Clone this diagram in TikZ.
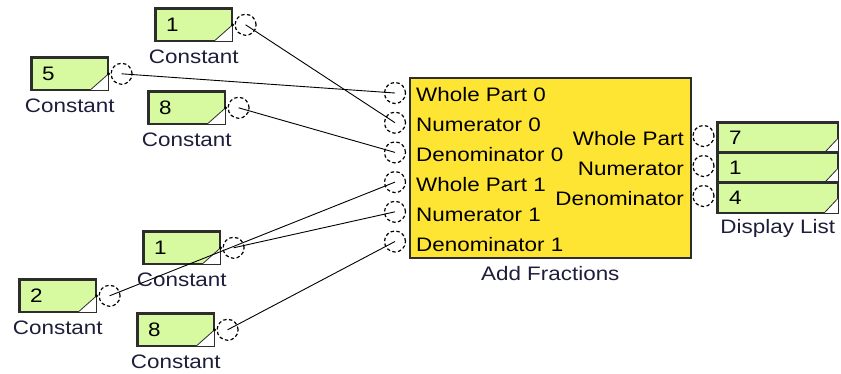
\documentclass[tikz,border=0pt]{standalone}
\usepackage{fontspec}
\setmainfont{Liberation Sans}[FakeStretch=1.15]
\definecolor{cgreen}{RGB}{215,250,160}
\definecolor{cyellow}{RGB}{255,229,51}
\definecolor{cborder}{RGB}{45,45,45}
\definecolor{clabel}{RGB}{30,30,60}
\tikzset{
  blk/.style={draw=cborder, line width=1.6pt, inner sep=0pt, anchor=north west},
  constbox/.style={blk, fill=cgreen, minimum width=76pt, minimum height=32pt},
  port/.style={circle, draw=black, line width=1.2pt, dash pattern=on 3.4pt off 2.4pt, minimum size=21pt, inner sep=0pt},
  val/.style={anchor=west, inner sep=0pt, font=\fontsize{19.5}{22}\selectfont},
  lbl/.style={inner sep=0pt, text=clabel, font=\fontsize{19.5}{22}\selectfont},
  wire/.style={line width=0.9pt, black},
}
\newcommand\mkconst[4]{%
  \node[constbox] (#1) at (#2,#3) {};
  \fill[white] (#1.south east) -- ([xshift=-19pt]#1.south east) -- (#1.east) -- cycle;
  \draw[cborder, line width=0.8pt] ([xshift=-19pt]#1.south east) -- (#1.east);
  \draw[cborder, line width=1.6pt] (#1.north west) rectangle (#1.south east);
  \fill (#1.east) circle (1.6pt);
  \node[val] (#1v) at ([xshift=11pt]#1.west) {#4};
  \node[port] (#1p) at ([xshift=13pt]#1.east) {};
  \node[lbl] (#1l) at ([yshift=-15pt]#1.south) {Constant};
}
\begin{document}
\begin{tikzpicture}[x=1pt,y=-1pt]
\path[use as bounding box, fill=white] (0,0) rectangle (841,373);

% constants
\mkconst{ca}{155}{8}{1}
\mkconst{cb}{31}{57}{5}
\mkconst{cc}{148}{91}{8}
\mkconst{cd}{143}{231}{1}
\mkconst{ce}{19}{279}{2}
\mkconst{cf}{137}{313}{8}

% Add Fractions block
\node[blk, fill=cyellow, minimum width=281pt, minimum height=180pt] (af) at (409,77) {};
\node[lbl] (afl) at ([yshift=-15pt]af.south) {Add Fractions};
\foreach \i/\t in {0/Whole Part 0,1/Numerator 0,2/Denominator 0,3/Whole Part 1,4/Numerator 1,5/Denominator 1}{
  \node[port] (in\i) at (395,93+29.7*\i) {};
  \node[val] (inl\i) at (416,95+30*\i) {\t};
}
\foreach \i/\t in {0/Whole Part,1/Numerator,2/Denominator}{
  \node[port] (out\i) at (703.5,136+30*\i) {};
  \node[val, anchor=east] (outl\i) at (684,139+30*\i) {\t};
}

% Display list
\foreach \i/\v in {0/7,1/1,2/4}{
  \node[blk, fill=cgreen, minimum width=120pt, minimum height=30pt] (dl\i) at (717,122+30*\i) {};
  \fill[white] (dl\i.south east) -- ([xshift=-15pt]dl\i.south east) -- ([yshift=16pt]dl\i.south east) -- cycle;
  \draw[cborder, line width=0.8pt] ([xshift=-15pt]dl\i.south east) -- ([yshift=16pt]dl\i.south east);
  \draw[cborder, line width=1.6pt] (dl\i.north west) rectangle (dl\i.south east);
  \node[val] (dlv\i) at ([xshift=12pt]dl\i.west) {\v};
}
\node[lbl] (dll) at ([yshift=-15pt]dl2.south) {Display List};

% wires
\draw[wire] (cap.center) -- (in1.center);
\draw[wire] (cbp.center) -- (in0.center);
\draw[wire] (ccp.center) -- (in2.center);
\draw[wire] (cep.center) -- (in3.center);
\draw[wire] (cdp.center) -- (in4.center);
\draw[wire] (cfp.center) -- (in5.center);
\end{tikzpicture}
\end{document}
